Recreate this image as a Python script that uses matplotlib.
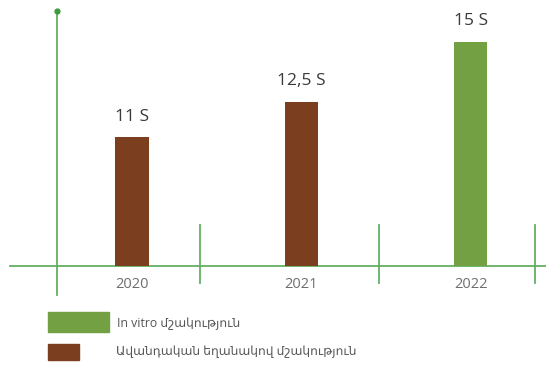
import matplotlib
matplotlib.use("Agg")
import matplotlib.pyplot as plt
from matplotlib.patches import Rectangle

# data
years = ["2020", "2021", "2022"]
values = [11, 12.5, 15]
labels = ["11 S", "12,5 S", "15 S"]
kinds = ["trad", "trad", "vitro"]
legend_names = {"vitro": "In vitro մշակություն",
                "trad": "Ավանդական եղանակով մշակություն"}

colors = {"vitro": "#72a043", "trad": "#7b3f1f"}
line_col = "#62b062"
fonts = ["Open Sans", "DejaVu Sans"]
plt.rcParams["font.family"] = fonts

W, H = 546, 365
fig = plt.figure(figsize=(W / 100, H / 100), dpi=100)
ax = fig.add_axes([0, 0, 1, 1])
ax.axis("off")

base = 5.59        # value sitting on the horizontal line
ax.set_xlim(-0.779, 2.443)
ax.set_ylim(1.427, 16.776)

xs = list(range(len(years)))
ax.bar(xs, [v - base for v in values], bottom=base, width=0.195,
       color=[colors[k] for k in kinds], zorder=3)

# axis lines
ax.plot([-0.72, 2.443], [base, base], color=line_col, lw=1.3, zorder=2)
ax.plot([-0.44, -0.44], [4.37, 16.3], color=line_col, lw=1.3, zorder=2)
ax.plot([-0.44], [16.3], marker="o", ms=3.5, color="#3f9a3f", zorder=4)
for sx in [0.40, 1.46, 2.38]:
    ax.plot([sx, sx], [4.875, 7.31], color=line_col, lw=1.3, zorder=2)

# value labels and years
for x, v, lab in zip(xs, values, labels):
    ax.annotate(lab, (x, v), xytext=(0, 15), textcoords="offset points",
                ha="center", va="center", fontsize=12.5, color="#3a3a3a")
    ax.annotate(years[x], (x, base), xytext=(0, -13), textcoords="offset points",
                ha="center", va="center", fontsize=10.5, color="#6e6e6e")

# legend swatches
def px_rect(x0, y0, x1, y1, c):
    fig.patches.append(Rectangle((x0 / W, 1 - y1 / H), (x1 - x0) / W, (y1 - y0) / H,
                                 transform=fig.transFigure, color=c, figure=fig))

px_rect(48, 312, 109, 332, colors["vitro"])
px_rect(48, 344, 79, 360, colors["trad"])
fig.text(117 / W, 1 - 324 / H, legend_names["vitro"], fontsize=8.8,
         color="#555555", va="center")
fig.text(116 / W, 1 - 352 / H, legend_names["trad"], fontsize=8.8,
         color="#555555", va="center")

fig.savefig("out.png", dpi=100)
